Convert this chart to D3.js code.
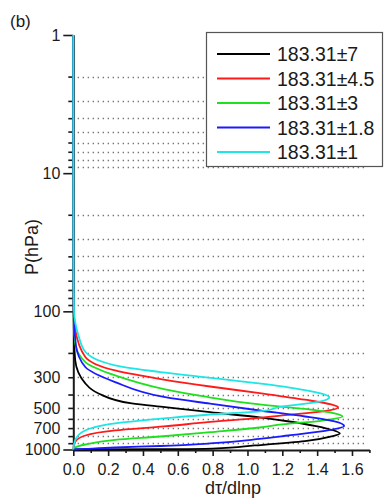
<!DOCTYPE html>
<html><head><meta charset="utf-8">
<script src="https://cdn.jsdelivr.net/npm/d3@7"></script>
<style>
body{margin:0;background:#fff}
svg{display:block}
text{font-family:"Liberation Sans",Arial,sans-serif;fill:#1a1a1a}
</style>
</head><body><svg id="c" width="385" height="500"></svg>
<script>
// ---- data ----
const seriesNames = ["183.31\u00b17","183.31\u00b14.5","183.31\u00b13","183.31\u00b11.8","183.31\u00b11"];
const seriesColors = ["#000000","#ff1a1a","#1ee01e","#1a1aff","#1ee6e6"];

const p_7   = [1, 50, 100, 150, 226, 332, 393, 464, 494, 537, 586, 627, 693, 766, 805, 871, 935, 984, 995, 1000];
const v_7   = [0, 0.001, 0.002, 0.004, 0.011, 0.069, 0.145, 0.336, 0.527, 0.785, 1.07, 1.24, 1.43, 1.53, 1.48, 1.33, 1.04, 0.8, 0.5, 0];

const p_4_5 = [1, 50, 100, 137, 214, 268, 313, 350, 391, 436, 472, 494, 530, 567, 591, 632, 681, 728, 792, 885, 1000];
const v_4_5 = [0, 0.001, 0.003, 0.012, 0.069, 0.24, 0.527, 0.785, 1.07, 1.33, 1.48, 1.52, 1.43, 1.2, 1.07, 0.785, 0.52, 0.24, 0.069, 0.01, 0];

const p_3   = [1, 50, 100, 168, 233, 291, 367, 413, 472, 509, 548, 577, 617, 659, 693, 749, 805, 851, 920, 967, 1000];
const v_3   = [0, 0.001, 0.002, 0.01, 0.069, 0.24, 0.527, 0.75, 1.07, 1.33, 1.5, 1.545, 1.43, 1.2, 1.07, 0.785, 0.5, 0.24, 0.069, 0.01, 0];

const p_1_8 = [1, 50, 100, 176, 253, 325, 418, 466, 522, 577, 627, 676, 728, 792, 839, 904, 943, 967, 990, 1000];
const v_1_8 = [0, 0.001, 0.002, 0.015, 0.069, 0.24, 0.527, 0.785, 1.07, 1.33, 1.5, 1.555, 1.46, 1.235, 1.07, 0.785, 0.5, 0.24, 0.069, 0];

const p_1   = [1, 50, 100, 122, 150, 197, 246, 275, 299, 331, 361, 393, 418, 449, 488, 530, 558, 596, 648, 749, 861, 1000];
const v_1   = [0, 0.001, 0.004, 0.012, 0.03, 0.07, 0.24, 0.5, 0.75, 1.05, 1.27, 1.42, 1.47, 1.42, 1.2, 1.07, 0.785, 0.52, 0.24, 0.05, 0.01, 0];

const seriesP = [p_7, p_4_5, p_3, p_1_8, p_1];
const seriesV = [v_7, v_4_5, v_3, v_1_8, v_1];

const xTickValues = [0, 0.2, 0.4, 0.6, 0.8, 1.0, 1.2, 1.4, 1.6];
const xMinorValues = [0.1, 0.3, 0.5, 0.7, 0.9, 1.1, 1.3, 1.5, 1.7];
const yMajorValues = [1, 10, 100, 1000];
const yLabeledMinor = [300, 500, 700];
const yMinorValues = [2,3,4,5,6,7,8,9, 20,30,40,50,60,70,80,90, 200,300,400,500,600,700,800,900];

// ---- drawing ----
const svg = d3.select("#c");
const x = d3.scaleLinear().domain([0, 1.7]).range([73.3, 369.4]);
const y = d3.scaleLog().domain([1, 1000]).range([35, 449.5]);

// grid
svg.append("g").selectAll("line").data(yMinorValues).join("line")
  .attr("x1", x(0.025)).attr("x2", x(1.69))
  .attr("y1", d => Math.round(y(d)) + 0.5).attr("y2", d => Math.round(y(d)) + 0.5)
  .attr("stroke", "#777").attr("stroke-width", 1.3).attr("stroke-dasharray", "1.4,3.6");

// y axis
function styleAxis(g, size) {
  g.selectAll("text").attr("font-size", size).attr("font-family", '"Liberation Sans",Arial,sans-serif').attr("fill", "#1a1a1a");
  g.selectAll("line").attr("stroke", "#1a1a1a").attr("stroke-width", 1.6);
}
const yMinorAxis = svg.append("g").attr("transform", "translate(73.3,0)")
  .call(d3.axisLeft(y).tickValues(yMinorValues).tickSize(5).tickPadding(8)
    .tickFormat(d => yLabeledMinor.includes(d) ? String(d) : "").tickSizeOuter(0));
yMinorAxis.select(".domain").remove();
styleAxis(yMinorAxis, 16);
const yMajorAxis = svg.append("g").attr("transform", "translate(73.3,0)")
  .call(d3.axisLeft(y).tickValues(yMajorValues).tickSize(10).tickPadding(3)
    .tickFormat(d => String(d)).tickSizeOuter(0));
yMajorAxis.select(".domain").attr("stroke", "#1a1a1a").attr("stroke-width", 2);
styleAxis(yMajorAxis, 16);

// x axis
const xMinorAxis = svg.append("g").attr("transform", "translate(0,450)")
  .call(d3.axisBottom(x).tickValues(xMinorValues).tickSize(3).tickFormat("").tickSizeOuter(0));
xMinorAxis.select(".domain").remove();
styleAxis(xMinorAxis, 16);
const xAxis = svg.append("g").attr("transform", "translate(0,450)")
  .call(d3.axisBottom(x).tickValues(xTickValues).tickSize(6).tickPadding(8)
    .tickFormat(d3.format(".1f")).tickSizeOuter(0));
xAxis.select(".domain").attr("stroke", "#1a1a1a").attr("stroke-width", 2);
styleAxis(xAxis, 16);

// curves (drawn over the axes, as in the reference)
const line = d3.line().x(d => x(d[1])).y(d => y(d[0])).curve(d3.curveMonotoneY);
seriesP.forEach((ps, i) => {
  const pts = ps.map((p, j) => [p, seriesV[i][j]]);
  svg.append("path").attr("d", line(pts)).attr("fill", "none")
    .attr("stroke", seriesColors[i]).attr("stroke-width", 1.8);
});

// axis titles
svg.append("text").attr("x", 233).attr("y", 494).attr("text-anchor", "middle")
  .attr("font-size", 18).text("d\u03c4/dlnp");
svg.append("text").attr("transform", "translate(38,247) rotate(-90)").attr("text-anchor", "middle")
  .attr("font-size", 18).text("P(hPa)");
svg.append("text").attr("x", 10).attr("y", 27).attr("font-size", 17).text("(b)");

// legend
const lg = svg.append("g");
lg.append("rect").attr("x", 206.5).attr("y", 32.5).attr("width", 176).attr("height", 134)
  .attr("fill", "#fff").attr("stroke", "#555").attr("stroke-width", 1.2);
const legendY = [54, 78.5, 103, 127.5, 152];
seriesNames.forEach((n, i) => {
  lg.append("line").attr("x1", 217).attr("x2", 270).attr("y1", legendY[i]).attr("y2", legendY[i])
    .attr("stroke", seriesColors[i]).attr("stroke-width", 1.8);
  lg.append("text").attr("x", 277).attr("y", legendY[i] + 7).attr("font-size", 19.5).text(n);
});
</script></body></html>
